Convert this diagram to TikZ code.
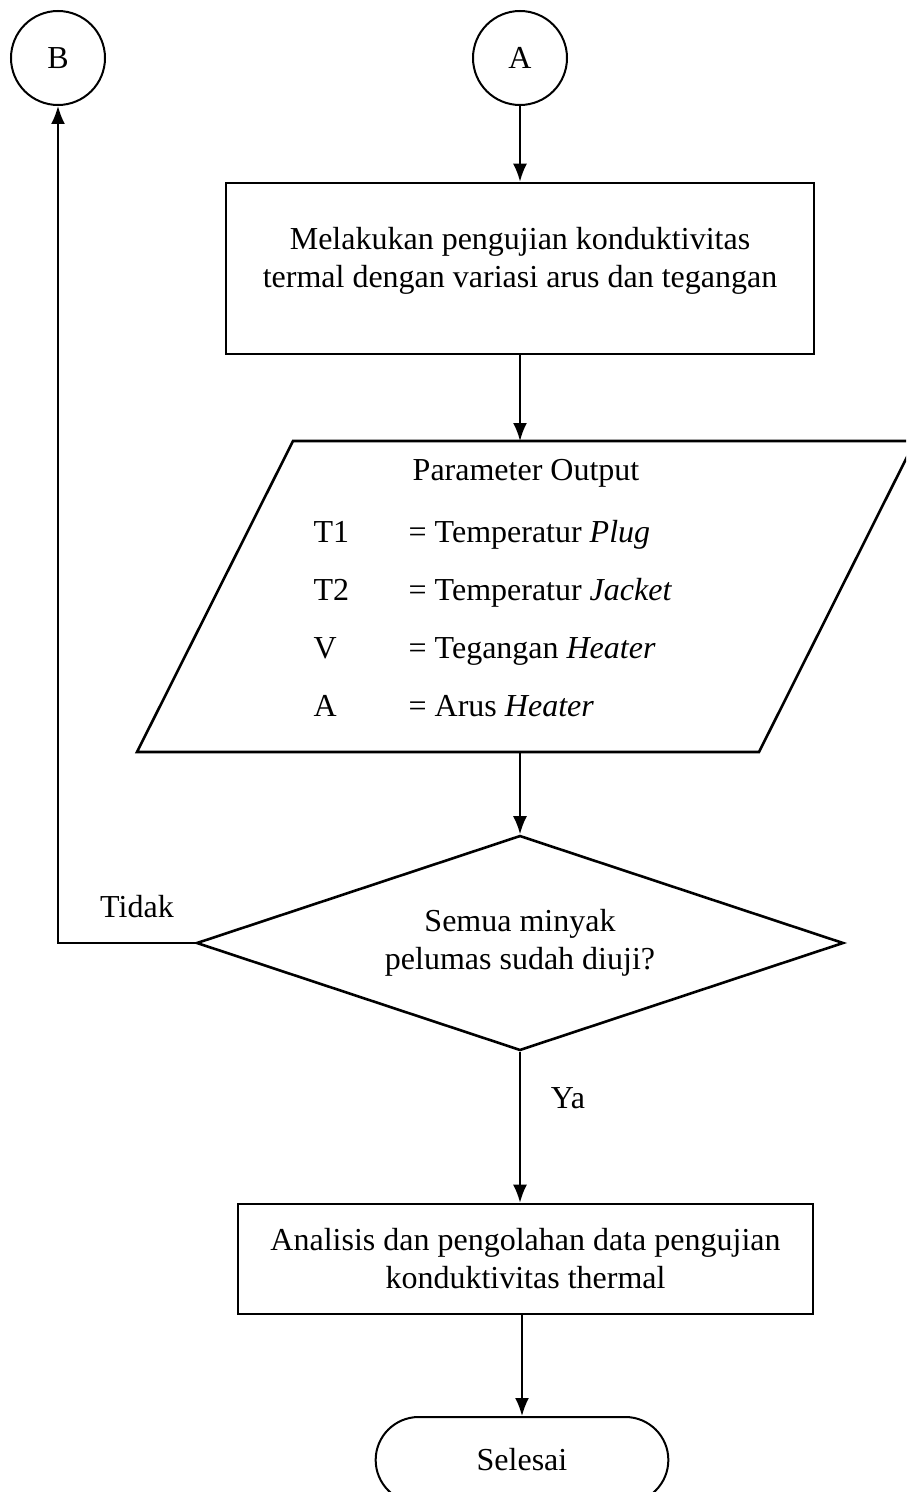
\documentclass[tikz,border=0pt]{standalone}
\usepackage{fontspec}
\setmainfont{Liberation Serif}
\usetikzlibrary{shapes.geometric,shapes.misc,arrows.meta}

\begin{document}
\begin{tikzpicture}[
        x = 0.5pt, y = -0.5pt,
        font = \fontsize{16}{19}\selectfont,
        line width = 1pt,
        conn/.style = {draw, circle, minimum size = 47pt, inner sep = 0pt},
        proc/.style = {draw, line width = 1.3pt, rectangle, align = center, inner sep = 0pt},
        decision/.style = {draw, line width = 1.3pt, diamond, aspect = 3, align = center, inner sep = 0pt,
            minimum width = 323.5pt, minimum height = 107.5pt},
        term/.style = {draw, rounded rectangle, minimum width = 153pt, minimum height = 43pt},
        arr/.style = {-{Latex[length = 9pt, width = 7pt]}}
    ]
    \clip (0,0) rectangle (906,1492);
    \node[conn] (B) at (58,58) {B};
    \node[conn] (A) at (520,58) {A};
    \node[proc, minimum width = 294pt, minimum height = 85.5pt, text depth = 11pt] (uji) at (520,268.5)
        {Melakukan pengujian konduktivitas\\termal dengan variasi arus dan tegangan};
    % data output (jajaran genjang)
    \draw[line width = 1.3pt] (293,441) -- (915,441) -- (759,752) -- (137,752) -- cycle;
    \coordinate (output-n) at (520,441);
    \coordinate (output-s) at (520,752);
    \node[anchor = base] (judul) at (526,480) {Parameter Output};
    \foreach \y/\sym/\ket [count=\i] in {542/T1/{Temperatur \textit{Plug}},
            600/T2/{Temperatur \textit{Jacket}}, 658/V/{Tegangan \textit{Heater}},
            716/A/{Arus \textit{Heater}}} {
        \node[anchor = base west] (sym\i) at (306,\y) {\sym};
        \node[anchor = base west] (ket\i) at (401,\y) {= \ket};
    }
    \node[decision] (cek) at (520,943) {Semua minyak\\pelumas sudah diuji?};
    \node[anchor = base] (tidak) at (137,917) {Tidak};
    \node[anchor = base] (ya) at (568,1108) {Ya};
    \node[proc, minimum width = 287.5pt, minimum height = 55pt] (analisis) at (525.5,1259)
        {Analisis dan pengolahan data pengujian\\konduktivitas thermal};
    \node[term] (selesai) at (522,1460) {Selesai};
    % alur
    \draw[arr] (A) -- (uji);
    \draw[arr] (uji) -- (output-n);
    \draw[arr] (output-s) -- (cek.north);
    \draw[arr] (cek.west) -| (B.south);
    \draw[arr] (cek.south) -- (cek.south |- analisis.north);
    \draw[arr] (selesai.north |- analisis.south) -- (selesai.north);
\end{tikzpicture}
\end{document}
